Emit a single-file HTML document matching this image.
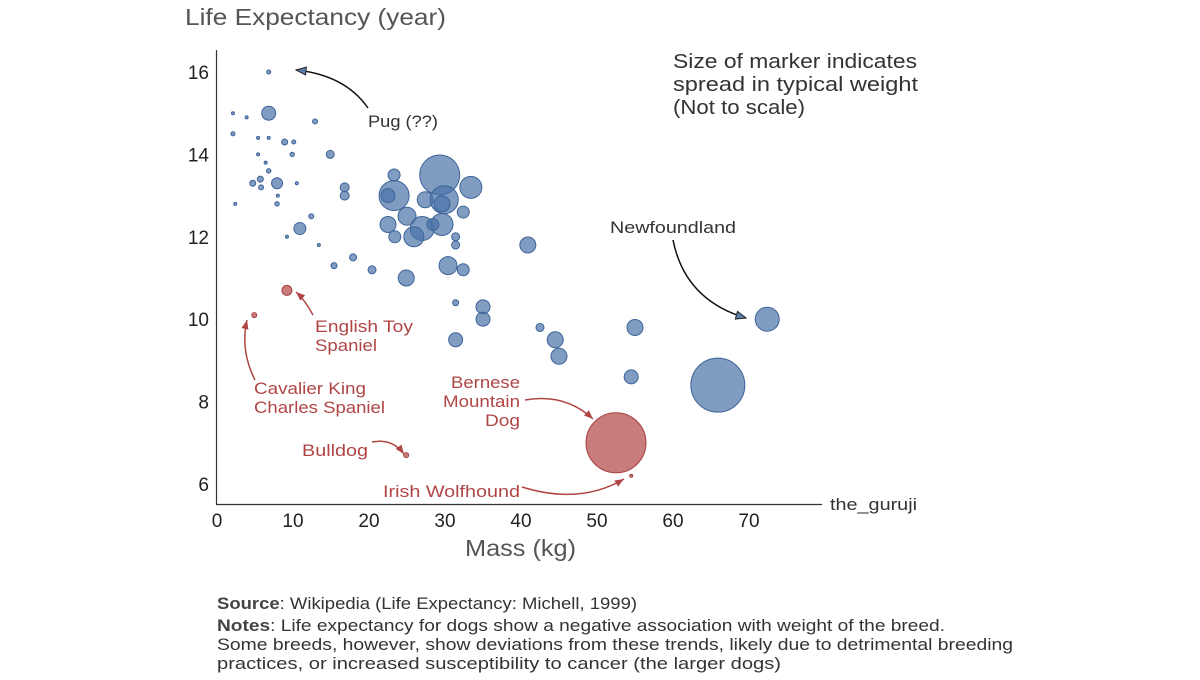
<!DOCTYPE html>
<html><head><meta charset="utf-8">
<style>
body{margin:0;background:#fff;}
svg text{font-family:"Liberation Sans",sans-serif;}
</style></head>
<body>
<svg id="chart" width="1200" height="675" viewBox="0 0 1200 675" xmlns="http://www.w3.org/2000/svg">
<defs>
<marker id="ab" viewBox="0 0 10 10" refX="10" refY="5" markerWidth="14" markerHeight="10" orient="auto" markerUnits="userSpaceOnUse"><path d="M0,1 L10,5 L0,9 z" fill="#5a7fae" stroke="#222" stroke-width="1"/></marker>
<marker id="ar" viewBox="0 0 10 10" refX="10" refY="5" markerWidth="12" markerHeight="9" orient="auto" markerUnits="userSpaceOnUse"><path d="M0,1 L10,5 L0,9 z" fill="#b04545"/></marker>
</defs>
<text x="185" y="25" font-size="23" fill="#555" textLength="261" lengthAdjust="spacingAndGlyphs">Life Expectancy (year)</text>
<text x="465" y="556" font-size="23" fill="#555" textLength="111" lengthAdjust="spacingAndGlyphs">Mass (kg)</text>
<line x1="216.5" y1="50" x2="216.5" y2="504" stroke="#333" stroke-width="1.2"/>
<line x1="216" y1="504.5" x2="822" y2="504.5" stroke="#333" stroke-width="1.2"/>
<g id="yt"></g><g id="xt"></g>
<g id="pts"></g>
<g id="ann" font-size="17">
<text x="830" y="510" fill="#333" textLength="87">the_guruji</text>
<text x="673" y="68" font-size="20" fill="#333" textLength="244">Size of marker indicates</text>
<text x="673" y="91" font-size="20" fill="#333" textLength="245">spread in typical weight</text>
<text x="673" y="114" font-size="20" fill="#333" textLength="132">(Not to scale)</text>
<text x="368" y="127" fill="#333" textLength="70">Pug (??)</text>
<path d="M368,108 Q345,75 296,70" fill="none" stroke="#111" stroke-width="1.5" marker-end="url(#ab)"/>
<text x="610" y="233" fill="#333" textLength="126">Newfoundland</text>
<path d="M673,240 Q685,300 746,318" fill="none" stroke="#111" stroke-width="1.5" marker-end="url(#ab)"/>
<g fill="#b04545">
<text x="315" y="332" textLength="98">English Toy</text>
<text x="315" y="351" textLength="62">Spaniel</text>
<text x="254" y="394" textLength="112">Cavalier King</text>
<text x="254" y="413" textLength="131">Charles Spaniel</text>
<text x="302" y="456" textLength="66">Bulldog</text>
<text x="451" y="388" textLength="69">Bernese</text>
<text x="443" y="407" textLength="77">Mountain</text>
<text x="485" y="426" textLength="35">Dog</text>
<text x="383" y="497" textLength="137">Irish Wolfhound</text>
</g>
<g fill="none" stroke="#b04545" stroke-width="1.5">
<path d="M313,315 Q305,300 296,292" marker-end="url(#ar)"/>
<path d="M255,380 Q240,350 247,320" marker-end="url(#ar)"/>
<path d="M372,442 Q392,438 404,454" marker-end="url(#ar)"/>
<path d="M525,400 Q565,393 593,419" marker-end="url(#ar)"/>
<path d="M522,487 Q580,505 624,479" marker-end="url(#ar)"/>
</g>
</g>
<g font-size="17" fill="#333">
<text x="217" y="609" textLength="420"><tspan font-weight="bold" fill="#444">Source</tspan>: Wikipedia (Life Expectancy: Michell, 1999)</text>
<text x="217" y="631" textLength="728"><tspan font-weight="bold" fill="#444">Notes</tspan>: Life expectancy for dogs show a negative association with weight of the breed.</text>
<text x="217" y="650" textLength="796">Some breeds, however, show deviations from these trends, likely due to detrimental breeding</text>
<text x="217" y="669" textLength="564">practices, or increased susceptibility to cancer (the larger dogs)</text>
</g>
</svg>
<script>
const mass=[6.8,6.8,2.1,3.9,12.9,2.1,5.4,6.8,8.9,10.1,14.9,5.4,9.9,6.4,6.8,5.7,4.7,5.8,7.9,10.5,8.0,7.9,2.4,16.8,16.8,23.3,23.3,22.5,29.3,33.4,27.4,29.9,29.6,32.4,25.0,12.4,22.5,27.0,29.6,28.4,10.9,23.4,25.9,31.4,31.4,9.2,13.4,17.9,15.4,20.4,24.9,30.4,32.4,40.9,31.4,35.0,35.0,31.4,42.5,44.5,45.0,55.0,54.5,65.9,72.4];
const life=[16.0,15.0,15.0,14.9,14.8,14.5,14.4,14.4,14.3,14.3,14.0,14.0,14.0,13.8,13.6,13.4,13.3,13.2,13.3,13.3,13.0,12.8,12.8,13.2,13.0,13.5,13.0,13.0,13.5,13.2,12.9,12.9,12.8,12.6,12.5,12.5,12.3,12.2,12.3,12.3,12.2,12.0,12.0,12.0,11.8,12.0,11.8,11.5,11.3,11.2,11.0,11.3,11.2,11.8,10.4,10.3,10.0,9.5,9.8,9.5,9.1,9.8,8.6,8.4,10.0];
const spread=[2,7,1.5,1.5,2.5,2,1.5,1.5,3,2,4,1.5,2.2,1.5,2.2,3,3,2.5,5.5,1.5,1.5,2.2,1.5,4.5,4.5,6,15,7,20,11,8,14,8,6,9,2.5,8,12,11,6,6,6,10,4,4,1.5,1.5,3.5,3,4,8,9,6,8,3,7,7,7,4,8,8,8,7,27,12];
const outMass=[9.2,4.9,24.9,52.5,54.5];
const outLife=[10.7,10.1,6.7,7.0,6.2];
const outSpread=[5,2.5,2.5,30,1.5];
const outNames=['english-toy-spaniel','cavalier-king-charles-spaniel','bulldog','bernese-mountain-dog','irish-wolfhound'];
const xTicks=[0,10,20,30,40,50,60,70];
const yTicks=[6,8,10,12,14,16];
const NS='http://www.w3.org/2000/svg';
const X=v=>217+v*7.6, Y=v=>72+(16-v)*41.2, R=s=>s;
document.querySelectorAll('text[textLength]').forEach(t=>t.setAttribute('lengthAdjust','spacingAndGlyphs'));
function mk(tag,attrs,parent){const e=document.createElementNS(NS,tag);for(const k in attrs)e.setAttribute(k,attrs[k]);parent.appendChild(e);return e;}
const yt=document.getElementById('yt'),xt=document.getElementById('xt'),pts=document.getElementById('pts');
yTicks.forEach(v=>{const t=mk('text',{x:209,y:Y(v)+7,'text-anchor':'end','font-size':19,fill:'#222'},yt);t.textContent=v;

});
xTicks.forEach(v=>{const t=mk('text',{x:X(v),y:527,'text-anchor':'middle','font-size':19,fill:'#222'},xt);t.textContent=v;

});
mass.forEach((m,i)=>{const c=mk('circle',{cx:X(m),cy:Y(life[i]),r:R(spread[i]),fill:'#4a72a6','fill-opacity':0.7,stroke:'#3c649a','stroke-width':1},pts);

});
outMass.forEach((m,i)=>{const c=mk('circle',{cx:X(m),cy:Y(outLife[i]),r:R(outSpread[i]),fill:'#b04545','fill-opacity':0.7,stroke:'#a84040','stroke-width':1},pts);

});
</script>
</body></html>
